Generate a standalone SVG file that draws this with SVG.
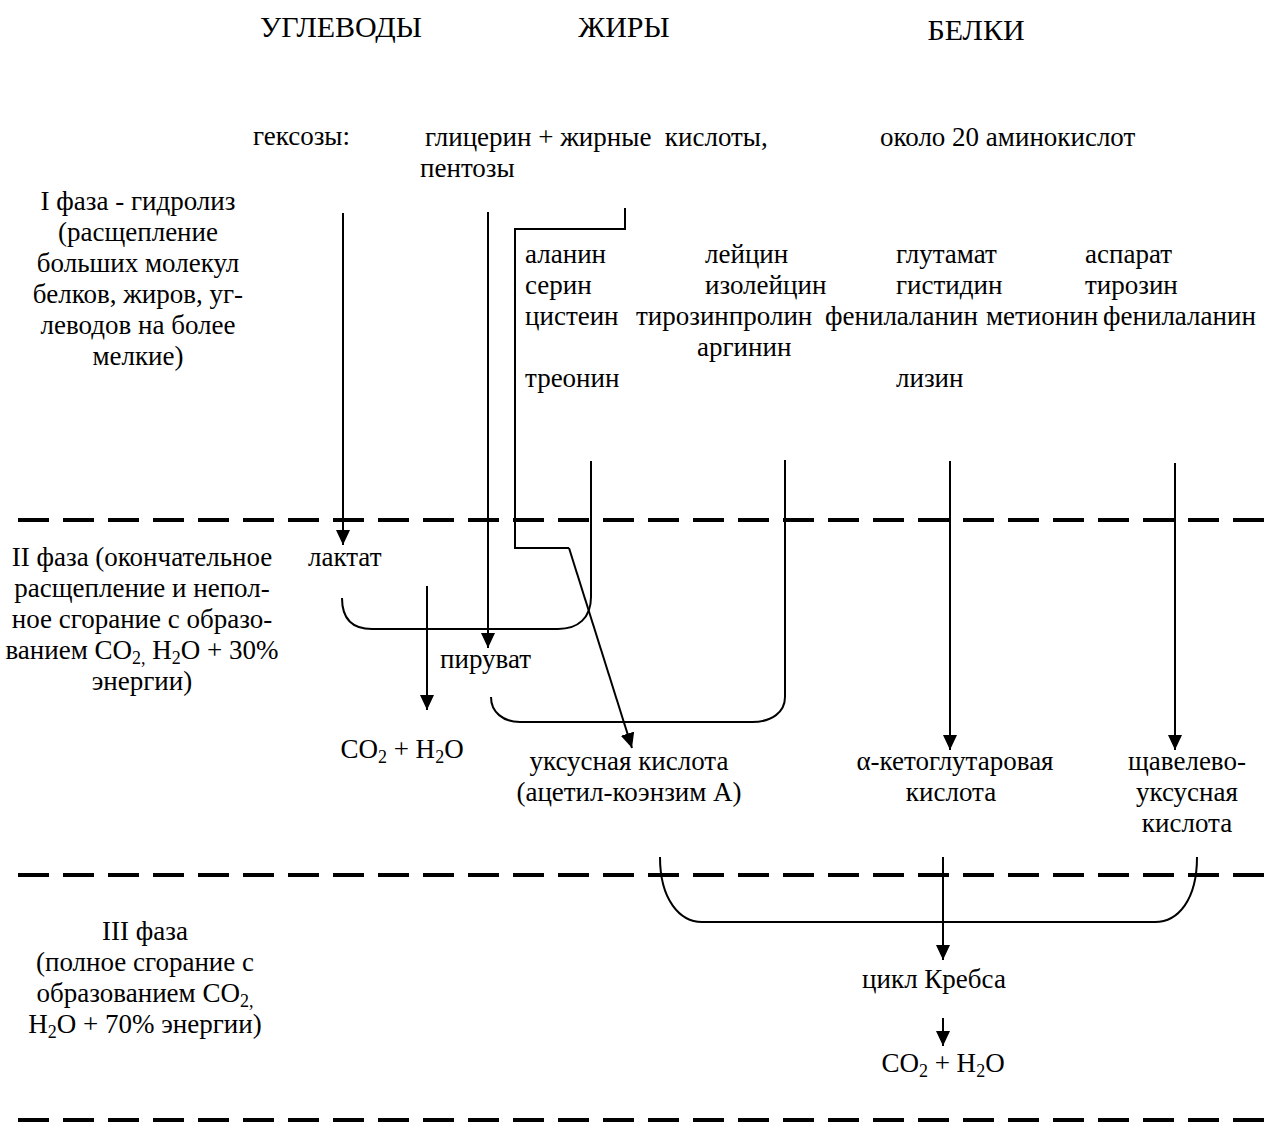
<svg xmlns="http://www.w3.org/2000/svg" width="1265" height="1133" viewBox="0 0 1265 1133">
<defs>
<marker id="ah" markerUnits="userSpaceOnUse" markerWidth="16" markerHeight="16" refX="15" refY="7" orient="auto">
<path d="M0,0 L15,7 L0,14 Z" fill="#000"/>
</marker>
<style>
text{font-family:"Liberation Serif","Times New Roman",serif;font-size:27px;fill:#000}
.sub{font-size:18px}
.title{font-size:30px;text-anchor:middle}
.ln{fill:none;stroke:#000;stroke-width:2}
.arr{fill:none;stroke:#000;stroke-width:2;marker-end:url(#ah)}
.dash{fill:none;stroke:#000;stroke-width:4;stroke-dasharray:31 14}
.c{text-anchor:middle}
</style>
</defs>
<rect width="1265" height="1133" fill="#fff"/>

<g id="phase-lines">
<line class="dash" x1="18" y1="520" x2="1265" y2="520"/>
<line class="dash" x1="18" y1="875" x2="1265" y2="875"/>
<line class="dash" x1="18" y1="1120" x2="1265" y2="1120"/>
</g>

<g id="titles">
<text id="t-carb" class="title" x="341" y="37">УГЛЕВОДЫ</text>
<text id="t-fat" class="title" x="624" y="37">ЖИРЫ</text>
<text id="t-prot" class="title" x="976" y="40">БЕЛКИ</text>
</g>

<g id="n-hexoses"><text x="253" y="145">гексозы:</text></g>
<g id="n-glycerol"><text x="425" y="146" xml:space="preserve">глицерин + жирные  кислоты,</text><text x="420" y="177">пентозы</text></g>
<g id="n-aminoacids"><text x="880" y="146">около 20 аминокислот</text></g>

<g id="phase1">
<text class="c" x="138" y="210">I фаза - гидролиз</text>
<text class="c" x="138" y="241">(расщепление</text>
<text class="c" x="138" y="272">больших молекул</text>
<text class="c" x="138" y="303">белков, жиров, уг-</text>
<text class="c" x="138" y="334">леводов на более</text>
<text class="c" x="138" y="365">мелкие)</text>
</g>

<g id="amino-list">
<text x="525" y="263">аланин</text>
<text x="525" y="294">серин</text>
<text x="525" y="325">цистеин</text>
<text x="525" y="387">треонин</text>
<text x="705" y="263">лейцин</text>
<text x="705" y="294">изолейцин</text>
<text x="636" y="325">тирозинпролин</text>
<text x="697" y="356">аргинин</text>
<text x="896" y="263">глутамат</text>
<text x="896" y="294">гистидин</text>
<text x="825" y="325">фенилаланин</text>
<text x="986" y="325">метионин</text>
<text x="1103" y="325">фенилаланин</text>
<text x="896" y="387">лизин</text>
<text x="1085" y="263">аспарат</text>
<text x="1085" y="294">тирозин</text>
</g>

<g id="phase2">
<text class="c" x="142" y="566">II фаза (окончательное</text>
<text class="c" x="142" y="597">расщепление и непол-</text>
<text class="c" x="142" y="628">ное сгорание с образо-</text>
<text class="c" x="142" y="659">ванием CO<tspan class="sub" dy="5">2,</tspan><tspan dy="-5"> H</tspan><tspan class="sub" dy="5">2</tspan><tspan dy="-5">O + 30%</tspan></text>
<text class="c" x="142" y="690">энергии)</text>
</g>

<g id="n-lactate"><text x="308" y="566">лактат</text></g>
<g id="n-pyruvate"><text x="440" y="668">пируват</text></g>
<g id="n-co2-1"><text class="c" x="402" y="758">CO<tspan class="sub" dy="5">2</tspan><tspan dy="-5"> + H</tspan><tspan class="sub" dy="5">2</tspan><tspan dy="-5">O</tspan></text></g>
<g id="n-acetyl"><text class="c" x="629" y="770">уксусная кислота</text><text class="c" x="629" y="801">(ацетил-коэнзим А)</text></g>
<g id="n-ketoglut"><text class="c" x="955" y="770">α-кетоглутаровая</text><text class="c" x="951" y="801">кислота</text></g>
<g id="n-oxaloacetate"><text class="c" x="1187" y="770">щавелево-</text><text class="c" x="1187" y="801">уксусная</text><text class="c" x="1187" y="832">кислота</text></g>

<g id="phase3">
<text class="c" x="145" y="940">III фаза</text>
<text class="c" x="145" y="971">(полное сгорание с</text>
<text class="c" x="145" y="1002">образованием CO<tspan class="sub" dy="5">2,</tspan></text>
<text class="c" x="145" y="1033">H<tspan class="sub" dy="5">2</tspan><tspan dy="-5">O + 70% энергии)</tspan></text>
</g>

<g id="n-krebs"><text class="c" x="934" y="988">цикл Кребса</text></g>
<g id="n-co2-2"><text class="c" x="943" y="1072">CO<tspan class="sub" dy="5">2</tspan><tspan dy="-5"> + H</tspan><tspan class="sub" dy="5">2</tspan><tspan dy="-5">O</tspan></text></g>

<g id="connectors">
<line class="arr" x1="343" y1="213" x2="343" y2="545"/>
<line class="arr" x1="488" y1="212" x2="488" y2="648"/>
<polyline class="ln" points="625,208 625,229 515,229 515,548 569,548"/>
<line class="arr" x1="569" y1="548" x2="632" y2="748"/>
<line class="ln" x1="591" y1="461" x2="591" y2="597"/>
<path class="ln" d="M342,598 C342,618 352,629 372,629 L558,629 C578,629 591,618 591,597"/>
<line class="arr" x1="427" y1="586" x2="427" y2="710"/>
<line class="ln" x1="785" y1="460" x2="785" y2="697"/>
<path class="ln" d="M491,697 C491,712 503,722 520,722 L752,722 C772,722 785,712 785,697"/>
<line class="arr" x1="950" y1="461" x2="950" y2="750"/>
<line class="arr" x1="1175" y1="463" x2="1175" y2="750"/>
<path class="ln" d="M660,857 C660,900 680,922 702,922 L1155,922 C1178,922 1197,900 1197,857"/>
<line class="arr" x1="943" y1="857" x2="943" y2="960"/>
<line class="arr" x1="943" y1="1018" x2="943" y2="1046"/>
</g>
</svg>
